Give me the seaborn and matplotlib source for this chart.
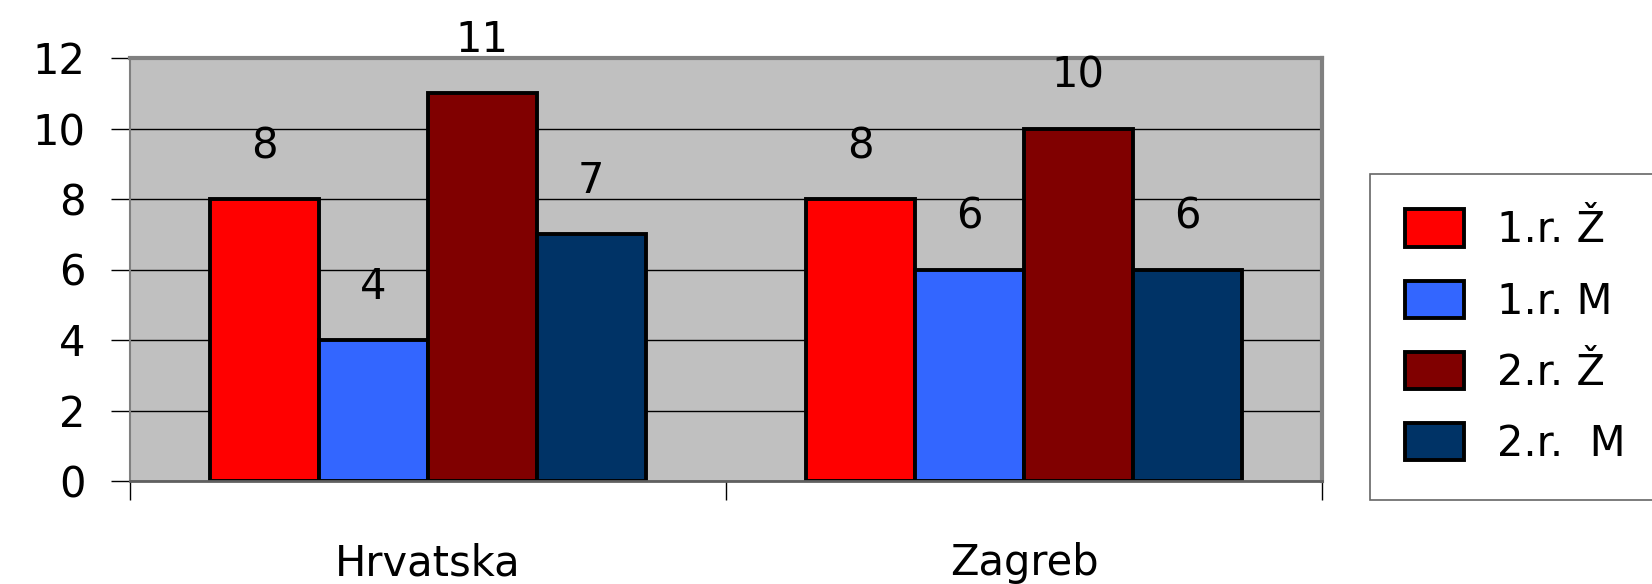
import matplotlib
matplotlib.use("Agg")
import matplotlib.pyplot as plt
import seaborn as sns
import pandas as pd
from matplotlib.ticker import FixedLocator

categories = ["Hrvatska", "Zagreb"]
series = ["1.r. Ž", "1.r. M", "2.r. Ž", "2.r.  M"]
values_1r_z = [8, 8]
values_1r_m = [4, 6]
values_2r_z = [11, 10]
values_2r_m = [7, 6]
colors = ["#FF0000", "#3366FF", "#800000", "#003366"]
yticks = [0, 2, 4, 6, 8, 10, 12]

rows = []
for s, vals in zip(series, [values_1r_z, values_1r_m, values_2r_z, values_2r_m]):
    for c, v in zip(categories, vals):
        rows.append({"grad": c, "serija": s, "broj": v})
df = pd.DataFrame(rows)

sns.set_theme(style="white")
plt.rcParams["font.family"] = ["DejaVu Sans"]
plt.rcParams["text.color"] = "black"
plt.rcParams["xtick.color"] = "black"
plt.rcParams["ytick.color"] = "black"

fig = plt.figure(figsize=(16.52, 5.84), dpi=100)
ax = fig.add_axes([130/1652, 1-481/584, (1322-130)/1652, (481-58)/584])
ax.set_facecolor("#C0C0C0")
ax.set_axisbelow(True)

sns.barplot(data=df, x="grad", y="broj", hue="serija", hue_order=series,
            order=categories, palette=colors, edgecolor="black", linewidth=2.8,
            width=0.73, gap=0, ax=ax, saturation=1, legend=True)

for cont in ax.containers:
    for bar in cont:
        h = bar.get_height()
        ax.annotate(f"{int(h)}", (bar.get_x() + bar.get_width()/2, h),
                    xytext=(0, 38), textcoords="offset points",
                    ha="center", va="center", fontsize=30, color="black")

ax.set_ylim(0, 12)
ax.set_xlim(-0.5, 1.5)
ax.yaxis.set_major_locator(FixedLocator(yticks))
ax.set_yticklabels([str(t) for t in yticks], fontsize=30)
ax.grid(axis="y", color="black", linewidth=1)
ax.grid(axis="x", visible=False)
ax.set_xlabel("")
ax.set_ylabel("")

ax.set_xticks([0, 1])
ax.set_xticklabels(categories, fontsize=30)
ax.tick_params(axis="x", which="major", length=0, pad=44)
ax.set_xticks([-0.5, 0.5, 1.5], minor=True)
ax.tick_params(axis="x", which="minor", length=14, width=1, color="black", direction="out", bottom=True)
ax.tick_params(axis="y", which="major", length=14, width=1, color="black", direction="out", left=True, pad=18)

for side in ["top", "right"]:
    ax.spines[side].set_color("#808080")
    ax.spines[side].set_linewidth(3)
ax.spines["left"].set_color("#808080")
ax.spines["left"].set_linewidth(1.5)
ax.spines["bottom"].set_color("#606060")
ax.spines["bottom"].set_linewidth(2)

handles, labels = ax.get_legend_handles_labels()
if ax.legend_:
    ax.legend_.remove()
leg = fig.legend(handles, labels, loc="upper left",
                 bbox_to_anchor=(1370/1652, 1-174/584), bbox_transform=fig.transFigure,
                 fontsize=30, frameon=True, fancybox=False, edgecolor="#404040",
                 handlelength=1.4, handleheight=1.0, handletextpad=0.8,
                 labelspacing=0.7, borderpad=0.85, borderaxespad=0)
leg.get_frame().set_linewidth(1.2)
for h in leg.legend_handles:
    h.set_edgecolor("black")
    h.set_linewidth(2.8)

fig.savefig("out.png", dpi=100, facecolor="white")
